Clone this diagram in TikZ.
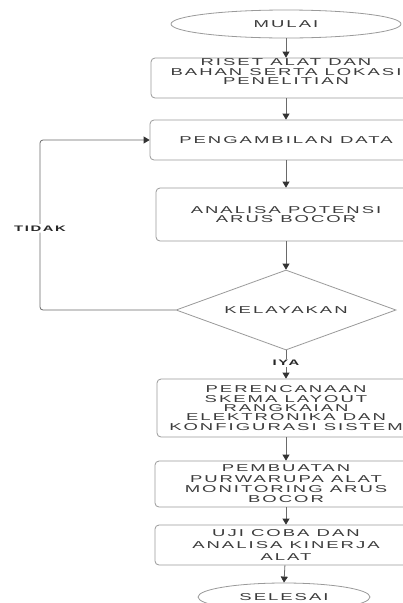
\documentclass[tikz,border=0pt]{standalone}
\usepackage{fontspec}
\newfontfamily\diafont[FakeStretch=1.85,LetterSpace=20]{Liberation Sans}
\usetikzlibrary{shapes.geometric,arrows.meta}
\definecolor{txt}{HTML}{3C3C3C}
\definecolor{edgec}{HTML}{9A9A9A}
\definecolor{connc}{HTML}{6A6A6A}
\definecolor{tipc}{HTML}{333333}
\begin{document}
\begin{tikzpicture}[x=1pt,y=-1pt,
  box/.style={draw=edgec, line width=0.8pt, rounded corners=4pt, inner sep=0pt,
    font=\diafont\fontsize{10}{9.5}\selectfont, text=txt, align=center},
  plain/.style={inner sep=0pt, font=\diafont\fontsize{10}{9.3}\selectfont, text=txt, align=center},
  term/.style={ellipse, draw=edgec, line width=0.8pt, inner sep=0pt,
    font=\diafont\fontsize{10}{10}\selectfont, text=txt},
  dec/.style={diamond, aspect=2.75, draw=edgec, line width=0.8pt, inner sep=0pt,
    font=\diafont\fontsize{10}{10}\selectfont, text=txt},
  conn/.style={draw=connc, line width=0.8pt, -{Triangle[length=6pt,width=7pt,color=tipc]}},
  lbl/.style={fill=white, inner sep=1.5pt, font=\diafont\bfseries\fontsize{8}{8}\selectfont, text=black!85}
]
\useasboundingbox (0,0) rectangle (403,603);
\fill[white] (0,0) rectangle (403,603);
\clip (0,0) rectangle (403,603);

\node[term, minimum width=230pt, minimum height=28pt] (mulai) at (286,24) {MULAI};
\node[box, minimum width=270pt, minimum height=40pt] (riset) at (286,78) {};
\node[plain] (risetT) at (286,71.7) {RISET ALAT DAN\\BAHAN SERTA LOKASI\\PENELITIAN};
\node[box, minimum width=272pt, minimum height=40pt] (ambil) at (286,140) {PENGAMBILAN DATA};
\node[box, minimum width=260pt, minimum height=53pt] (analisa) at (286,214.5) {ANALISA POTENSI\\ARUS BOCOR};
\node[dec, minimum width=220pt, minimum height=80pt] (kel) at (286,310) {KELAYAKAN};
\node[box, minimum width=258pt, minimum height=58pt, font=\diafont\fontsize{10}{9.4}\selectfont] (rencana) at (286,408)
  {PERENCANAAN\\SKEMA LAYOUT\\RANGKAIAN\\ELEKTRONIKA DAN\\KONFIGURASI SISTEM};
\node[box, minimum width=262pt, minimum height=46pt, font=\diafont\fontsize{10}{10.3}\selectfont] (buat) at (286,484)
  {PEMBUATAN\\PURWARUPA ALAT\\MONITORING ARUS\\BOCOR};
\node[box, minimum width=262pt, minimum height=40pt, font=\diafont\fontsize{10}{12.3}\selectfont] (uji) at (286,545)
  {UJI COBA DAN\\ANALISA KINERJA\\ALAT};
\node[term, minimum width=172pt, minimum height=28pt] (selesai) at (284,597) {SELESAI};

\coordinate (loopx) at (40,0);

\draw[conn] (mulai) -- (riset);
\draw[conn] (riset) -- (ambil);
\draw[conn] (ambil) -- (analisa);
\draw[conn] (analisa) -- (kel);
\draw[conn] (kel) -- node[lbl, pos=0.45] (iya) {IYA} (rencana);
\draw[conn] (rencana) -- (buat);
\draw[conn] (buat) -- (uji);
\draw[conn] (uji) -- (selesai.north);
\draw[conn, rounded corners=3pt] (kel.west) -- (kel.west -| loopx)
  -- node[lbl, pos=0.48] (tidak) {TIDAK} (loopx |- ambil.west) -- (ambil.west);
\end{tikzpicture}
\end{document}
